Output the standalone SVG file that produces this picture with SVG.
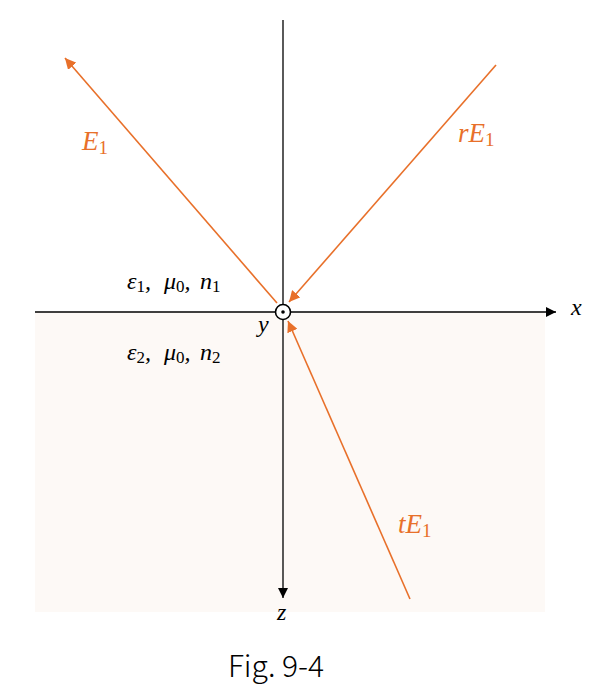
<svg xmlns="http://www.w3.org/2000/svg" width="600" height="690" viewBox="0 0 600 690">
<style>
.ax{stroke:#000;stroke-width:1.3;fill:none}
.ray{stroke:#E8702A;stroke-width:1.6;fill:none}
.m{font-family:"Liberation Serif","DejaVu Serif",serif;font-style:italic}
.lab{fill:#E8702A;font-size:27px}
.blk{fill:#000;font-size:24px}
.sub{font-style:normal}
.ls{font-size:19px}
.bs{font-size:17px}
</style>
<defs>
<marker id="ah" viewBox="0 0 10 10" refX="10" refY="5" markerWidth="10" markerHeight="10" markerUnits="userSpaceOnUse" orient="auto"><path d="M0,0L10,5L0,10z" fill="#000"/></marker>
<marker id="ao" viewBox="0 0 10 10" refX="10" refY="5" markerWidth="11" markerHeight="11" markerUnits="userSpaceOnUse" orient="auto"><path d="M0,0L10,5L0,10z" fill="#E8702A"/></marker>
</defs>
<rect x="35" y="312" width="510" height="300" fill="#FDF9F6"/>
<g id="axes">
<line class="ax" x1="35" y1="312" x2="556" y2="312" marker-end="url(#ah)"/>
<line class="ax" x1="283" y1="20" x2="283" y2="598" marker-end="url(#ah)"/>
</g>
<g id="connectors">
<line class="ray" x1="277" y1="303" x2="65" y2="58" marker-end="url(#ao)"/>
<line class="ray" x1="496" y1="65" x2="289" y2="302" marker-end="url(#ao)"/>
<line class="ray" x1="410" y1="599" x2="288" y2="321" marker-end="url(#ao)"/>
</g>
<g id="yaxis-node">
<circle cx="283" cy="312" r="7.5" fill="#fff" stroke="#000" stroke-width="1.6"/>
<circle cx="283" cy="312" r="1.8" fill="#000"/>
</g>
<g id="labels">
<text class="m lab" x="82" y="150">E<tspan class="sub ls" dy="4">1</tspan></text>
<text class="m lab" x="458" y="142">rE<tspan class="sub ls" dy="4">1</tspan></text>
<text class="m lab" x="398" y="533">tE<tspan class="sub ls" dy="4">1</tspan></text>
<text class="m blk" y="289"><tspan x="127">ε</tspan><tspan class="sub bs" dy="3">1</tspan><tspan dy="-3">,</tspan><tspan x="164">μ</tspan><tspan class="sub bs" dy="3">0</tspan><tspan dy="-3">,</tspan><tspan x="200">n</tspan><tspan class="sub bs" dy="3">1</tspan></text>
<text class="m blk" y="360"><tspan x="127">ε</tspan><tspan class="sub bs" dy="3">2</tspan><tspan dy="-3">,</tspan><tspan x="164">μ</tspan><tspan class="sub bs" dy="3">0</tspan><tspan dy="-3">,</tspan><tspan x="200">n</tspan><tspan class="sub bs" dy="3">2</tspan></text>
<text class="m blk" x="258" y="332">y</text>
<text class="m blk" x="571" y="315">x</text>
<text class="m blk" x="277" y="620">z</text>
</g>
<text x="276" y="677" text-anchor="middle" font-family="'Noto Sans CJK JP','Noto Sans',sans-serif" font-weight="300" font-size="30" fill="#000">Fig. 9-4</text>
</svg>
